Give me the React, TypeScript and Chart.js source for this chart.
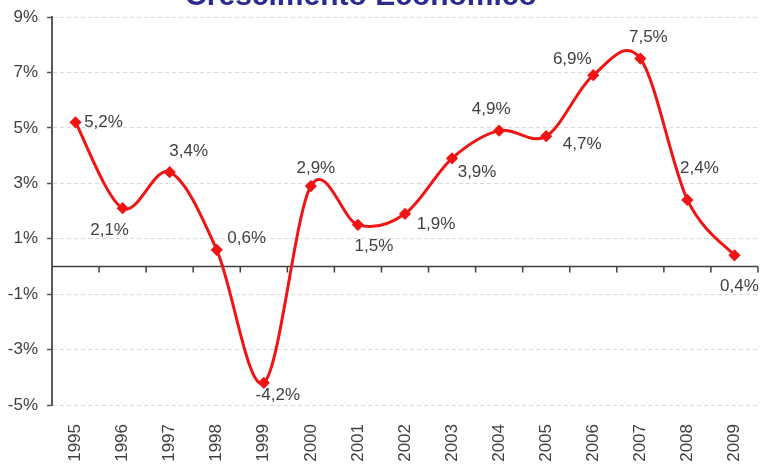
import React, { useEffect, useRef } from "react";
import { Chart, registerables } from "chart.js";

Chart.register(...registerables);

const years = ["1995", "1996", "1997", "1998", "1999", "2000", "2001", "2002", "2003", "2004", "2005", "2006", "2007", "2008", "2009"];
const growth = [5.2, 2.1, 3.4, 0.6, -4.2, 2.9, 1.5, 1.9, 3.9, 4.9, 4.7, 6.9, 7.5, 2.4, 0.4];
const yTicks = [-5, -3, -1, 1, 3, 5, 7, 9];
const titleText = "Crescimento Econômico";
// label placement relative to each point (pixels)
const labelOffsets: [number, number][] = [
  [28, 0], [-13, 22], [19, -21], [30, -11], [14, 12], [5, -18], [16, 21], [31, 11],
  [25, 14], [-8, -21], [36, 8], [-21, -16], [8, -21], [12, -32], [5, 31],
];

const FONT = "'Liberation Sans', Arial, sans-serif";
const TEXT = "#404040";
const RED = "#f01414";

const fmt = (v: number) => v.toFixed(1).replace(".", ",") + "%";

export default function App() {
  const ref = useRef<HTMLCanvasElement | null>(null);
  useEffect(() => {
    if (!ref.current) return;
    // Excel-style smoothing (Catmull-Rom, 1/6 factor)
    const smooth = {
      id: "smooth",
      beforeDatasetsDraw(chart: any) {
        const meta = chart.getDatasetMeta(0);
        const line = meta.dataset;
        if (line && line.updateControlPoints) line.updateControlPoints(chart.chartArea, "x");
        const pts = meta.data;
        const n = pts.length;
        const k = 1 / 6;
        for (let i = 0; i < n; i++) {
          const p = pts[i];
          const prev = pts[Math.max(0, i - 1)];
          const next = pts[Math.min(n - 1, i + 1)];
          const tx = (next.x - prev.x) * k;
          const ty = (next.y - prev.y) * k;
          p.cp1x = p.x - tx;
          p.cp1y = p.y - ty;
          p.cp2x = p.x + tx;
          p.cp2y = p.y + ty;
        }
      },
    };
    const zeroLine = {
      id: "zeroLine",
      beforeDatasetsDraw(chart: any) {
        const { ctx, chartArea, scales } = chart;
        const y = scales.y.getPixelForValue(0);
        ctx.save();
        ctx.strokeStyle = "#404040";
        ctx.lineWidth = 1.5;
        ctx.beginPath();
        ctx.moveTo(chartArea.left, y);
        ctx.lineTo(chartArea.right, y);
        const n = years.length;
        for (let i = 0; i < n; i++) {
          const x = i < n - 1
            ? (scales.x.getPixelForValue(i) + scales.x.getPixelForValue(i + 1)) / 2
            : chartArea.right;
          ctx.moveTo(x, y);
          ctx.lineTo(x, y + 6);
        }
        ctx.stroke();
        ctx.restore();
      },
    };
    const dataLabels = {
      id: "dataLabels",
      afterDatasetsDraw(chart: any) {
        const { ctx } = chart;
        const meta = chart.getDatasetMeta(0);
        ctx.save();
        ctx.font = `17px ${FONT}`;
        ctx.fillStyle = TEXT;
        ctx.textAlign = "center";
        ctx.textBaseline = "middle";
        meta.data.forEach((pt: any, i: number) => {
          const [dx, dy] = labelOffsets[i];
          ctx.fillText(fmt(growth[i]), pt.x + dx, pt.y + dy);
        });
        ctx.restore();
      },
    };
    const cutTitle = {
      id: "cutTitle",
      afterDraw(chart: any) {
        const { ctx } = chart;
        ctx.save();
        ctx.font = `bold 30px ${FONT}`;
        ctx.fillStyle = "#2b2b8c";
        ctx.textAlign = "center";
        ctx.textBaseline = "alphabetic";
        ctx.fillText(titleText, 361, 5);
        ctx.restore();
      },
    };
    const chart = new Chart(ref.current, {
      type: "line",
      data: {
        labels: years,
        datasets: [
          {
            data: growth,
            borderColor: RED,
            backgroundColor: RED,
            borderWidth: 3,
            tension: 0.4,
            pointStyle: "rectRot",
            pointRadius: 4,
            pointBackgroundColor: RED,
            pointBorderColor: RED,
            fill: false,
          },
        ],
      },
      options: {
        animation: false,
        responsive: false,
        maintainAspectRatio: false,
        layout: { padding: { top: 17, right: 4, left: 0, bottom: 0 } },
        plugins: {
          legend: { display: false },
          title: { display: false },
          tooltip: { enabled: false },
        },
        scales: {
          x: {
            offset: true,
            grid: { display: false, drawTicks: false, tickLength: 0 },
            border: { display: false },
            ticks: {
              minRotation: 90,
              maxRotation: 90,
              autoSkip: false,
              padding: 19,
              color: TEXT,
              font: { family: FONT, size: 17 },
            },
            afterFit(scale: any) {
              scale.height = 61;
              scale.paddingLeft = 0;
              scale.paddingRight = 0;
            },
          },
          y: {
            min: yTicks[0],
            max: yTicks[yTicks.length - 1],
            afterBuildTicks(scale: any) {
              scale.ticks = yTicks.map((v) => ({ value: v }));
            },
            ticks: {
              callback: (v: any) => v + "%",
              padding: 9,
              color: TEXT,
              font: { family: FONT, size: 17 },
            },
            grid: {
              color: "#d9d9d9",
              lineWidth: 1,
              tickLength: 5,
              tickColor: "#555555",
              tickWidth: 1.5,
              tickBorderDash: [],
            },
            border: { display: true, color: "#595959", width: 2, dash: [4, 3] },
            afterFit(scale: any) {
              scale.width = 52;
              scale.paddingTop = 0;
              scale.paddingBottom = 0;
            },
          },
        },
      },
      plugins: [smooth, zeroLine, dataLabels, cutTitle],
    });
    return () => chart.destroy();
  }, []);
  return (
    <div style={{ position: "fixed", left: 0, top: 0, width: 765, height: 466, background: "#fff" }}>
      <canvas ref={ref} width={765} height={466} />
    </div>
  );
}
